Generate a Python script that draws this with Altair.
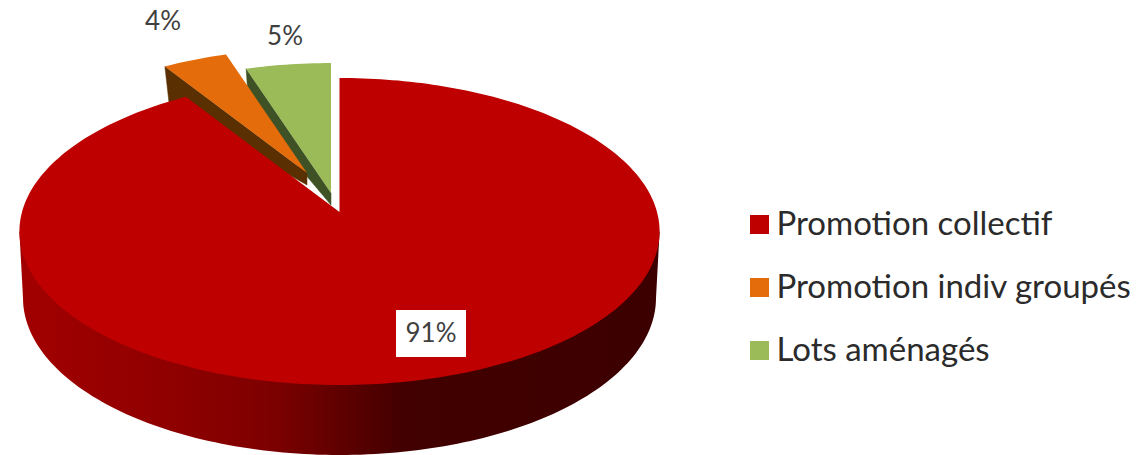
import math
import altair as alt

# Share of each programme type
categories = ["Promotion collectif", "Promotion indiv groupés", "Lots aménagés"]
values = [91, 4, 5]
labels = ["91%", "4%", "5%"]
top_colors = ["#BE0000", "#E46C0A", "#9BBB59"]
wall_colors = [None, "#5A3003", "#3E5226"]

# Perspective of the disc (pixels): apex, half axes, foreshortening
TOP = dict(cx=339.5, cy=212.0, a=317.5, b=151.0)
BOTTOM = dict(cx=339.5, cy=262.0, a=313.5, b=168.0)
P = 0.127

# Lower outline of the disc's thickness: centre and half axes
BASE = dict(cx=339.5, cy=298.0, a=316.5, b=157.0)

# Pulled-out slices: offset of the apex and radius factor
EXPLODE = {
    0: dict(dx=0, dy=0, k=1.0),
    1: dict(dx=-32.5, dy=-39, k=0.925),
    2: dict(dx=-8.5, dy=-19, k=0.97),
}


def rim(theta, plane, k=1.0):
    """Point of a disc at a clockwise angle from 12 o'clock."""
    s, c = math.sin(theta), math.cos(theta)
    w = 1 + P * c
    return [plane["cx"] + plane["a"] * k * s / w, plane["cy"] - plane["b"] * k * c / w]


def angle_span(i):
    total = sum(values)
    start = sum(values[:i]) / total * 2 * math.pi
    return start, start + values[i] / total * 2 * math.pi


def shifted(pt, e):
    return [pt[0] + e["dx"], pt[1] + e["dy"]]


def feature(name, ring):
    ring = ring + [ring[0]]
    return {
        "type": "Feature",
        "geometry": {"type": "Polygon", "coordinates": [ring]},
        "properties": {"name": name},
    }


def top_face(i):
    e = EXPLODE[i]
    a0, a1 = angle_span(i)
    n = max(8, int(values[i] * 3))
    arc = [rim(a0 + (a1 - a0) * j / n, TOP, e["k"]) for j in range(n + 1)]
    apex = [TOP["cx"], TOP["cy"]]
    return feature(categories[i], [shifted(apex, e)] + [shifted(p, e) for p in arc])


def cut_wall(i):
    # Flat inner face on the leading edge of the slice
    e = EXPLODE[i]
    a0, _ = angle_span(i)
    apex_t = [TOP["cx"], TOP["cy"]]
    apex_b = [BOTTOM["cx"], BOTTOM["cy"] - 38]
    return feature(
        categories[i],
        [
            shifted(apex_t, e),
            shifted(rim(a0, TOP, e["k"]), e),
            shifted(rim(a0, BOTTOM, e["k"] * 0.98), e),
            shifted(apex_b, e),
        ],
    )


def outer_wall():
    # Silhouette of the thickness under the large slice: a half ellipse
    # closed against the widest points of the top face
    n = 140
    lower = []
    for j in range(n + 1):
        t = math.pi * j / n
        lower.append([BASE["cx"] + BASE["a"] * math.cos(t), BASE["cy"] + BASE["b"] * math.sin(t)])
    right = rim(math.radians(97.3), TOP)
    left = rim(math.radians(262.7), TOP)
    return feature(categories[0], [right] + lower + [left])


identity = dict(type="identity", scale=1, translate=[0, 0])

color = alt.Color(
    "properties.name:N",
    scale=alt.Scale(domain=categories, range=top_colors),
    sort=categories,
    legend=alt.Legend(
        title=None,
        orient="none",
        legendX=743,
        legendY=208,
        symbolType="square",
        symbolSize=361,
        symbolStrokeWidth=0,
        labelFont="Lato",
        labelFontSize=33,
        labelColor="#2B2B2B",
        labelOffset=0.5,
        labelLimit=400,
        rowPadding=29,
    ),
)


def face(i):
    return (
        alt.Chart(alt.Data(values=[top_face(i)]))
        .mark_geoshape()
        .encode(color=color)
        .project(**identity)
    )


def wall(i):
    return (
        alt.Chart(alt.Data(values=[cut_wall(i)]))
        .mark_geoshape(fill=wall_colors[i], stroke=wall_colors[i], strokeWidth=0.5)
        .project(**identity)
    )


side = (
    alt.Chart(alt.Data(values=[outer_wall()]))
    .mark_geoshape(
        fill=alt.Gradient(
            gradient="linear",
            x1=0,
            x2=1,
            y1=0,
            y2=0,
            stops=[
                alt.GradientStop(offset=0.0, color="#A20000"),
                alt.GradientStop(offset=0.25, color="#8E0000"),
                alt.GradientStop(offset=0.40, color="#7C0000"),
                alt.GradientStop(offset=0.50, color="#600000"),
                alt.GradientStop(offset=0.60, color="#420000"),
                alt.GradientStop(offset=1.0, color="#3C0000"),
            ],
        )
    )
    .project(**identity)
)

# Value labels; the largest one sits on a white box
label_rows = [
    {"label": labels[0], "px": 431, "py": 334},
    {"label": labels[1], "px": 163, "py": 22},
    {"label": labels[2], "px": 285, "py": 37},
]
box = (
    alt.Chart(alt.Data(values=[{"px": 396, "px2": 466, "py": 310, "py2": 357}]))
    .mark_rect(fill="white")
    .encode(
        x=alt.X("px:Q", scale=None),
        x2="px2:Q",
        y=alt.Y("py:Q", scale=None),
        y2="py2:Q",
    )
)
value_text = (
    alt.Chart(alt.Data(values=label_rows))
    .mark_text(font="Lato", fontSize=26, color="#404040", align="center", baseline="middle")
    .encode(
        x=alt.X("px:Q", scale=None),
        y=alt.Y("py:Q", scale=None),
        text="label:N",
    )
)

chart = (
    alt.layer(wall(2), face(2), wall(1), face(1), side, face(0), box, value_text)
    .resolve_scale(color="shared")
    .properties(width=1146, height=455, padding=0, autosize=alt.AutoSizeParams(type="none"))
    .configure_view(stroke=None)
)

chart.save("out.html", embed_options={"renderer": "svg", "actions": False})
